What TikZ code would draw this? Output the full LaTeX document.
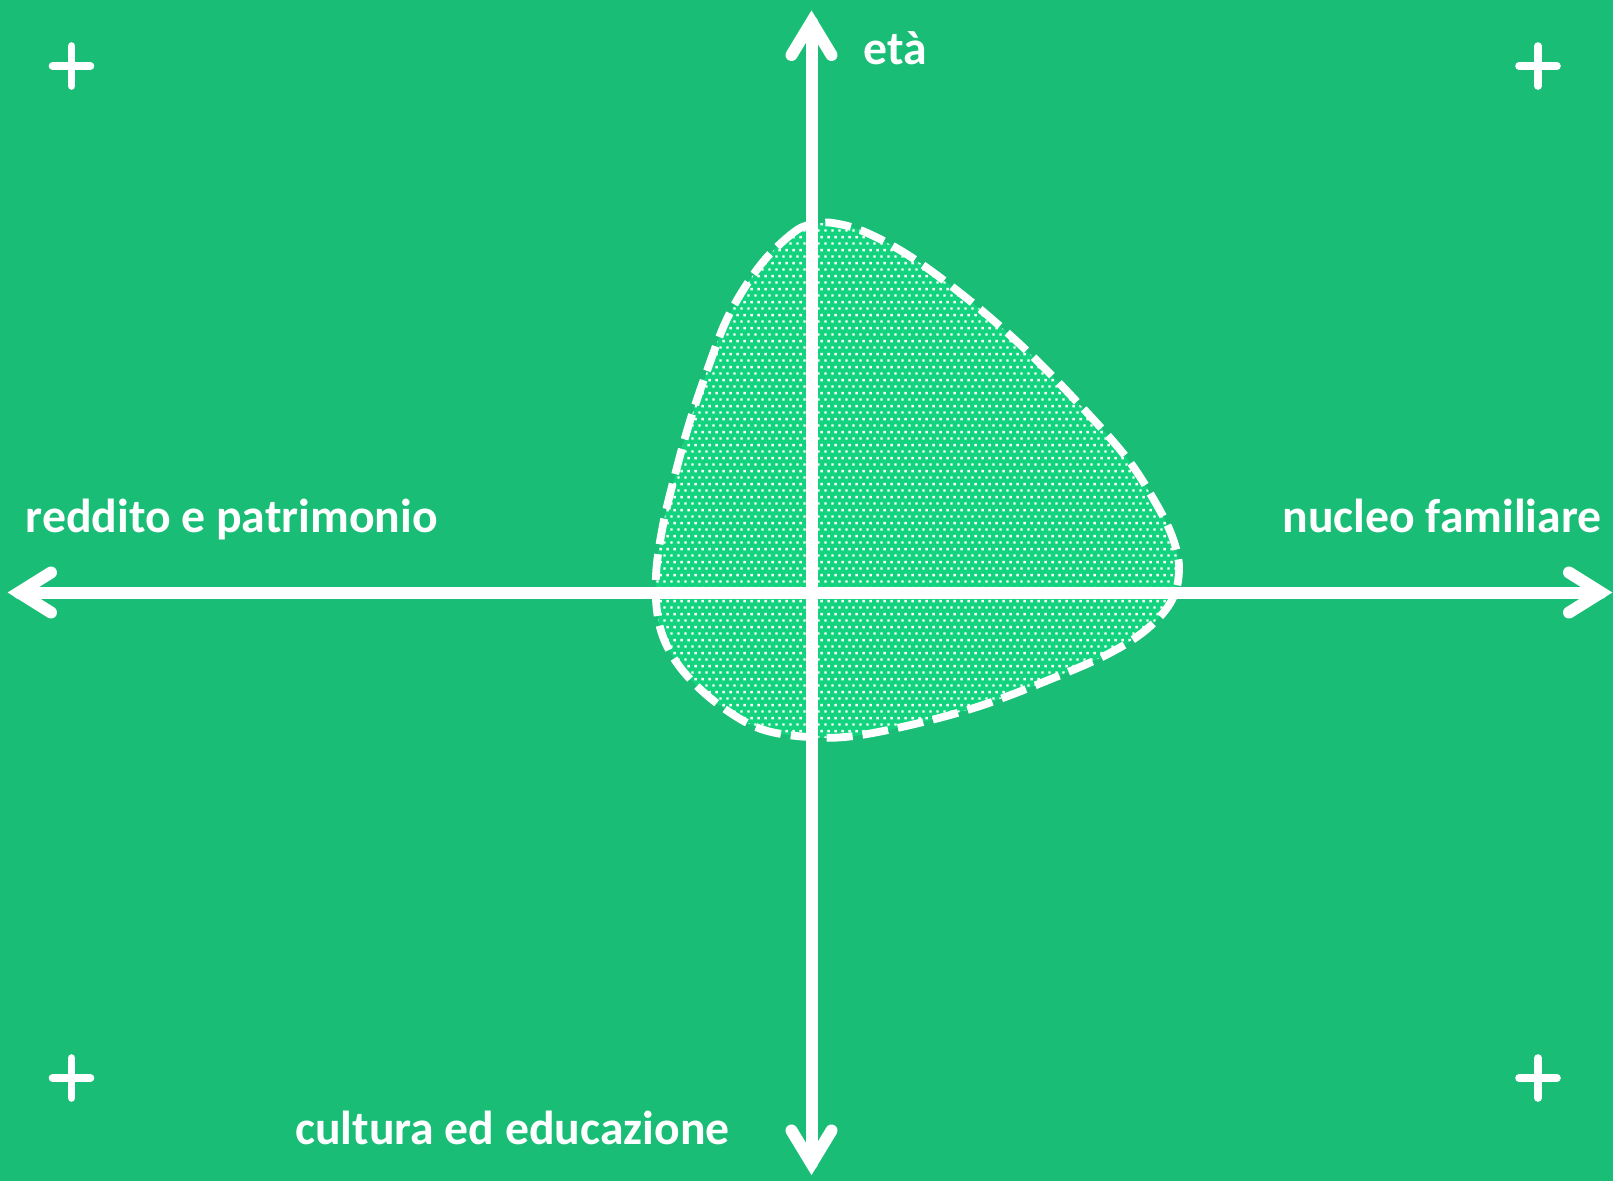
\documentclass[tikz,border=0pt]{standalone}
\usepackage{fontspec}
\setmainfont{Carlito}
\usetikzlibrary{patterns}
\pgfdeclarepatternformonly{bdots}{\pgfpointorigin}{\pgfpoint{6.7pt}{13.4pt}}{\pgfpoint{6.7pt}{13.4pt}}{%
  \pgfpathrectangle{\pgfpoint{0.3pt}{0.3pt}}{\pgfpoint{2.5pt}{2.5pt}}%
  \pgfpathrectangle{\pgfpoint{3.65pt}{7.0pt}}{\pgfpoint{2.5pt}{2.5pt}}%
  \pgfusepath{fill}}
\definecolor{bg}{RGB}{26,189,118}
\definecolor{blobfill}{RGB}{19,211,126}
\tikzset{
  axis/.style={white, line width=12pt, line cap=round},
  tip/.style={white, line width=12pt, line cap=round, line join=miter},
  plussign/.style={white, line width=7.6pt, line cap=round},
  lab/.style={text=white, inner sep=0pt, anchor=base, font=\bfseries\fontsize{47.7}{57}\selectfont},
  blobline/.style={white, line width=7.8pt, dash pattern=on 26pt off 10pt}
}
\begin{document}
\begin{tikzpicture}[x=1pt,y=-1pt]
\fill[bg] (0,0) rectangle (1613,1181);
\useasboundingbox (0,0) rectangle (1613,1181);

% blob
\def\blobpath{plot[smooth cycle, tension=0.6] coordinates {
 (815,224) (797,230) (769,255) (747,284) (726,321) (708,368) (690,421) (676,471) (663,525)
 (656,575) (658,618) (669,650) (690,679) (722,707) (761,729) (808,737) (854,736) (919,723)
 (983,705) (1051,679) (1108,654) (1147,629) (1172,600) (1179,568) (1172,536) (1154,500)
 (1126,457) (1079,404) (1026,350) (969,300) (911,257) (865,232) (833,223)}}
\fill[blobfill] \blobpath;
\fill[pattern=bdots, pattern color=white] \blobpath;
\draw[blobline] \blobpath;

% axes
\coordinate (L) at (19,592.5);
\coordinate (R) at (1601,592.5);
\coordinate (T) at (811.5,22);
\coordinate (B) at (811.5,1163.5);
\draw[axis] (L) -- (R);
\draw[axis] (T) -- (B);
\draw[tip] (51,572.5) -- (L) -- (51,612.5);
\draw[tip] (1569,572.5) -- (R) -- (1569,612.5);
\draw[tip] (791.5,55) -- (T) -- (831.5,55);
\draw[tip] (791.5,1130.5) -- (B) -- (831.5,1130.5);

% plus signs
\foreach \px/\py in {71.5/66, 1538/66, 71.5/1078, 1538/1078}{
  \draw[plussign] (\px-19,\py) -- (\px+19,\py);
  \draw[plussign] (\px,\py-20) -- (\px,\py+20);
}

% labels
\node[lab] (eta) at (895,64) {età};
\node[lab] (reddito) at (231.7,532.7) {reddito e patrimonio};
\node[lab] (nucleo) at (1442,532.7) {nucleo familiare};
\node[lab] (cultura) at (512.5,1144.3) {cultura ed educazione};
\end{tikzpicture}
\end{document}
